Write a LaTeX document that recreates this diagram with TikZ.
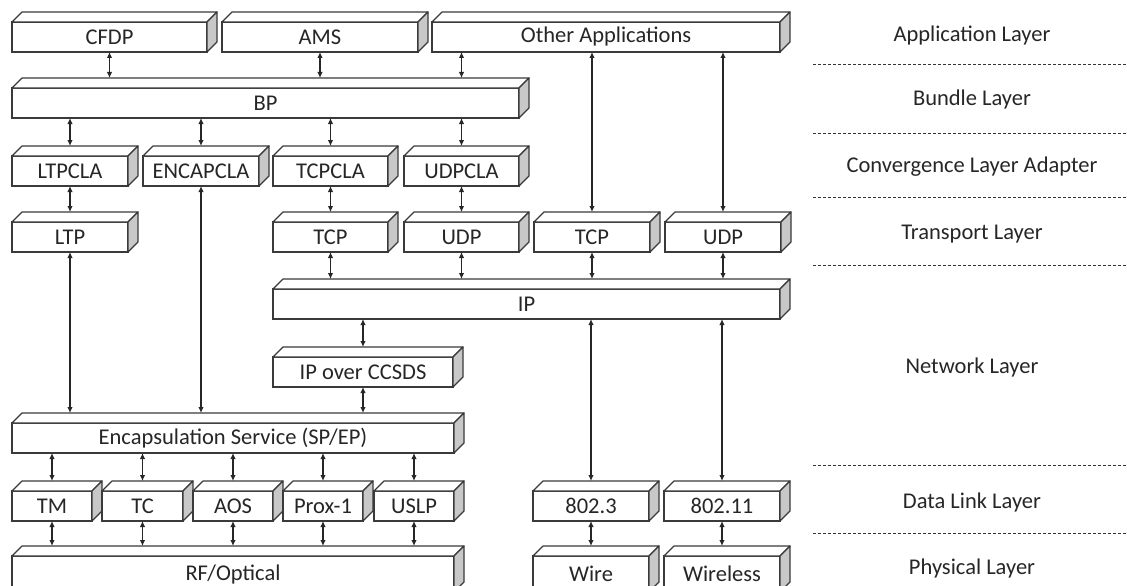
\documentclass[tikz,border=0pt]{standalone}
\usepackage{fontspec}
\setmainfont{Carlito}
\usetikzlibrary{arrows.meta}
\definecolor{edge}{HTML}{3A3A3A}
\definecolor{sideface}{HTML}{C8C8C8}
\definecolor{txt}{HTML}{262626}
\tikzset{
  front/.style={draw=edge, line width=1.2pt, fill=white, inner sep=0pt, outer sep=0pt,
    text=txt, font=\fontsize{22.5}{27}\selectfont},
  face/.style={draw=edge, line width=1.2pt, fill=white, line join=round},
  sidef/.style={face, fill=sideface},
  link/.style={draw=black!85, line width=1.3pt,
    {Latex[length=6pt,width=5.5pt]}-{Latex[length=6pt,width=5.5pt]}},
  layer/.style={text=txt, font=\fontsize{22.5}{27}\selectfont, inner sep=0pt},
  sep/.style={draw=black!80, line width=1pt, dash pattern=on 3pt off 2pt}
}
\newcommand\mybox[6]{%
  \node[front, minimum width={(#4-#2)*1pt}, minimum height={(#5-#3)*1pt}] (#1)
    at ({(#2+#4)/2},{(#3+#5)/2}) {#6};
  \draw[face] (#1.north west) -- ++(10pt,10pt) -- ([shift={(10pt,10pt)}]#1.north east)
    -- (#1.north east) -- cycle;
  \draw[sidef] (#1.north east) -- ++(10pt,10pt) -- ([shift={(10pt,10pt)}]#1.south east)
    -- (#1.south east) -- cycle;
  \coordinate (#1t) at ([yshift=10pt]#1.north);
}
\newcommand\arr[3]{\draw[link] (#1.south -| #3.north) -- (#3.north |- #2t);}
\begin{document}
\begin{tikzpicture}[x=1pt,y=-1pt]
\useasboundingbox (0,0) rectangle (1127,586);
% application
\mybox{cfdp}{12}{22}{207}{52}{CFDP}
\mybox{ams}{222}{22}{418}{52}{AMS}
\mybox{other}{432}{22}{780}{52}{Other Applications}
% bundle
\mybox{bp}{12}{88}{519}{118}{BP}
% CLA
\mybox{ltpcla}{12}{156}{128}{186}{LTPCLA}
\mybox{encapcla}{143}{156}{259}{186}{ENCAPCLA}
\mybox{tcpcla}{273}{156}{388}{186}{TCPCLA}
\mybox{udpcla}{404}{156}{519}{186}{UDPCLA}
% transport
\mybox{ltp}{12}{222}{128}{252}{LTP}
\mybox{tcp}{273}{222}{388}{252}{TCP}
\mybox{udp}{404}{222}{519}{252}{UDP}
\mybox{tcpb}{534}{222}{650}{252}{TCP}
\mybox{udpb}{665}{222}{781}{252}{UDP}
% network
\mybox{ip}{273}{289}{780}{319}{IP}
\mybox{ipc}{273}{357}{453}{387}{IP over CCSDS}
\mybox{encap}{12}{423}{454}{453}{Encapsulation Service (SP/EP)}
% data link
\mybox{tm}{12}{491}{92}{521}{TM}
\mybox{tc}{102}{491}{183}{521}{TC}
\mybox{aos}{193}{491}{273}{521}{AOS}
\mybox{prox}{283}{491}{363}{521}{Prox-1}
\mybox{uslp}{374}{491}{454}{521}{USLP}
\mybox{ethw}{533}{491}{649}{521}{802.3}
\mybox{ethr}{664}{491}{780}{521}{802.11}
% physical
\mybox{rf}{12}{556}{454}{592}{RF/Optical}
\mybox{wire}{533}{556}{649}{592}{Wire}
\mybox{wireless}{664}{556}{780}{592}{Wireless}
% connectors
\arr{cfdp}{bp}{cfdp}
\arr{ams}{bp}{ams}
\arr{other}{bp}{udpcla}
\arr{other}{tcpb}{tcpb}
\arr{other}{udpb}{udpb}
\arr{bp}{ltpcla}{ltpcla}
\arr{bp}{encapcla}{encapcla}
\arr{bp}{tcpcla}{tcpcla}
\arr{bp}{udpcla}{udpcla}
\arr{ltpcla}{ltp}{ltp}
\arr{tcpcla}{tcp}{tcp}
\arr{udpcla}{udp}{udp}
\arr{tcp}{ip}{tcp}
\arr{udp}{ip}{udp}
\arr{tcpb}{ip}{tcpb}
\arr{udpb}{ip}{udpb}
\arr{ip}{ipc}{ipc}
\arr{ltp}{encap}{ltp}
\arr{encapcla}{encap}{encapcla}
\arr{ipc}{encap}{ipc}
\arr{encap}{tm}{tm}
\arr{encap}{tc}{tc}
\arr{encap}{aos}{aos}
\arr{encap}{prox}{prox}
\arr{encap}{uslp}{uslp}
\arr{ip}{ethw}{ethw}
\arr{ip}{ethr}{ethr}
\arr{tm}{rf}{tm}
\arr{tc}{rf}{tc}
\arr{aos}{rf}{aos}
\arr{prox}{rf}{prox}
\arr{uslp}{rf}{uslp}
\arr{ethw}{wire}{ethw}
\arr{ethr}{wireless}{ethr}
% layer labels
\node[layer] (lapp) at (972,36) {Application Layer};
\node[layer] (lbun) at (972,100) {Bundle Layer};
\node[layer] (lcla) at (972,167) {Convergence Layer Adapter};
\node[layer] (ltra) at (972,234) {Transport Layer};
\node[layer] (lnet) at (972,367) {Network Layer};
\node[layer] (ldl) at (972,502) {Data Link Layer};
\node[layer] (lphy) at (972,568) {Physical Layer};
\foreach \yy in {65,133,197,265,465,533} \draw[sep] (813,\yy) -- (1127,\yy);
\end{tikzpicture}
\end{document}
